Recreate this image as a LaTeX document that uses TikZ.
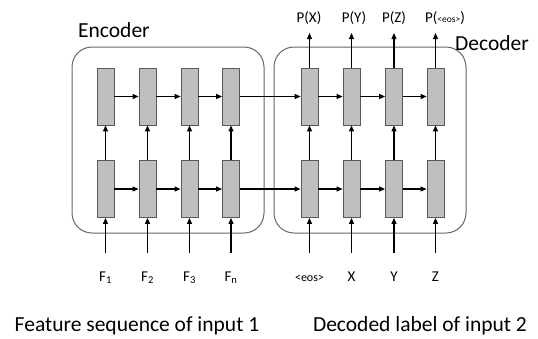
\documentclass[tikz,border=0pt]{standalone}
\usepackage{fontspec}
\setmainfont{Carlito}
\usetikzlibrary{arrows.meta}
\tikzstyle{cell}=[rectangle,fill=black!25,draw=black!65,line width=0.8pt,minimum width=17pt,minimum height=57pt,inner sep=0pt]
\tikzstyle{container}=[rectangle,draw=black!60,line width=1pt,rounded corners=20pt,minimum width=192pt,minimum height=186pt,inner sep=0pt]
\tikzstyle{flow}=[-{Triangle[length=6pt,width=5pt]},line width=1.1pt]
\tikzstyle{seqlabel}=[font=\fontsize{15}{18}\selectfont,inner sep=0pt,anchor=base]
\tikzstyle{title}=[font=\fontsize{21.5}{25}\selectfont,inner sep=0pt,anchor=base west]

\begin{document}
\begin{tikzpicture}[x=1pt,y=-1pt]
\useasboundingbox (0,0) rectangle (538,338);

%Boxes
    \node[container] (enc) at (168,140) {};
    \node[container] (dec) at (370,140) {};
    \node[title] (enctitle) at (78,37) {Encoder};
    \node[title] (dectitle) at (455,50) {Decoder};

%Encoder
    \foreach \x/\i/\label in {105.5/1/F\textsubscript{1}, 147.5/2/F\textsubscript{2}, 189.5/3/F\textsubscript{3}, 231/4/F\textsubscript{n}}{
        \node[cell] (eu\i) at (\x,96.5) {};
        \node[cell] (el\i) at (\x,189) {};
        \coordinate (ein\i) at (\x,253);
        \node[seqlabel] (f\i) at (\x,281) {\label};
    }

%Decoder
    \foreach \x/\i/\label in {309.5/1/{\fontsize{12}{14}\selectfont<eos>}, 351.5/2/X, 394/3/Y, 435.5/4/Z}{
        \node[cell] (du\i) at (\x,96.5) {};
        \node[cell] (dl\i) at (\x,189) {};
        \coordinate (din\i) at (\x,253);
        \coordinate (dout\i) at (\x,33);
        \node[seqlabel] (w\i) at (\x,281) {\label};
    }
    \foreach \pos/\name/\label in {{(309,22)/p1/P(X)}, {(354,22)/p2/P(Y)}, {(394,22)/p3/P(Z)}, {(445,22)/p4/P({\fontsize{9.5}{11}\selectfont<eos>})}}
        \node[seqlabel] (\name) at \pos {\label};

    \foreach \source/ \dest in {eu1/eu2, eu2/eu3, eu3/eu4, el1/el2, el2/el3, el3/el4, eu4/du1, el4/dl1, du1/du2, du2/du3, du3/du4, dl1/dl2, dl2/dl3, dl3/dl4}
        \draw[flow] (\source.east) -- (\dest.west);
    \foreach \i in {1,...,4}{
        \draw[flow] (el\i.north) -- (eu\i.south);
        \draw[flow] (dl\i.north) -- (du\i.south);
        \draw[flow] (ein\i) -- (el\i.south);
        \draw[flow] (din\i) -- (dl\i.south);
        \draw[flow] (du\i.north) -- (dout\i);
    }

%Captions
    \node[font=\fontsize{21.5}{25}\selectfont,inner sep=0pt,anchor=base] (featcap) at (137,331) {Feature sequence of input 1};
    \node[font=\fontsize{21.5}{25}\selectfont,inner sep=0pt,anchor=base] (deccap) at (420,331) {Decoded label of input 2};

\end{tikzpicture}
\end{document}
